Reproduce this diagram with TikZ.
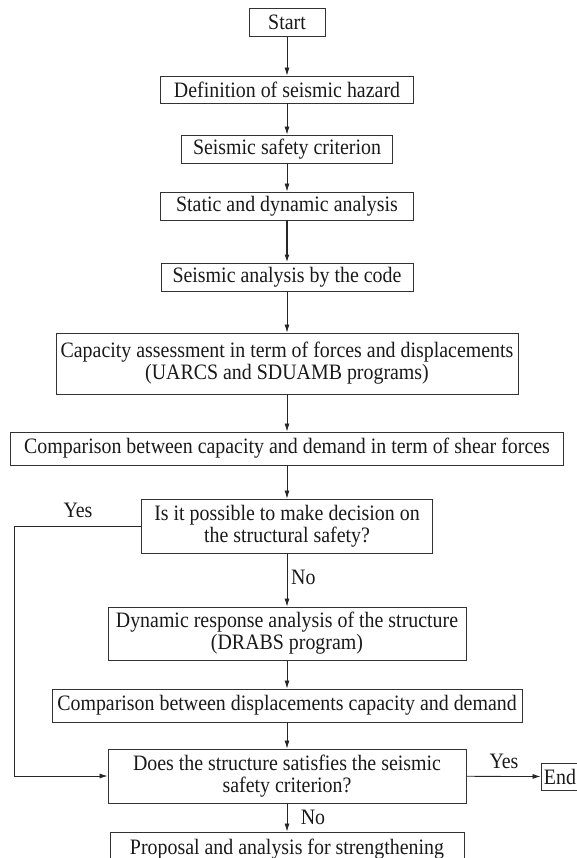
\documentclass[tikz,border=0pt]{standalone}
\usepackage{fontspec}
\setmainfont{Liberation Serif}[FakeStretch=0.905]
\usetikzlibrary{arrows.meta}
\begin{document}
\begin{tikzpicture}[x=1pt,y=-1pt,
  box/.style={draw=black!80, line width=0.9pt, rectangle, inner sep=0pt, align=center,
    font=\fontsize{22}{22}\selectfont, text=black!90},
  lbl/.style={font=\fontsize{22}{22}\selectfont, text=black!90, inner sep=0pt},
  arr/.style={draw=black!85, line width=0.8pt, -{Latex[length=8pt,width=5pt]}}]
\useasboundingbox (0,0) rectangle (577,858);
\clip (0,0) rectangle (577,858);
\node[box, minimum width=76, minimum height=28] (start) at (287,22) {Start};
\node[box, minimum width=253, minimum height=27] (def) at (287,89.5) {Definition of seismic hazard};
\node[box, minimum width=211, minimum height=28] (saf) at (287,149) {Seismic safety criterion};
\node[box, minimum width=253, minimum height=28] (sta) at (287,206) {Static and dynamic analysis};
\node[box, minimum width=252, minimum height=28] (code) at (287,277) {Seismic analysis by the code};
\node[box, minimum width=462, minimum height=61] (cap) at (287,363.5) {Capacity assessment in term of forces and displacements\\(UARCS and SDUAMB programs)};
\node[box, minimum width=553, minimum height=33] (cmp) at (287,448.5) {Comparison between capacity and demand in term of shear forces};
\node[box, minimum width=291, minimum height=54] (is) at (287,526) {Is it possible to make decision on\\the structural safety?};
\node[box, minimum width=358, minimum height=53] (dyn) at (287,633.5) {Dynamic response analysis of the structure\\(DRABS program)};
\node[box, minimum width=470, minimum height=33] (cmpd) at (287,705.5) {Comparison between displacements capacity and demand};
\node[box, minimum width=358, minimum height=54] (does) at (287,776) {Does the structure satisfies the seismic\\safety criterion?};
\node[box, minimum width=354, minimum height=34] (prop) at (287,849) {Proposal and analysis for strengthening};
\node[box, minimum width=38, minimum height=27] (end) at (560,776.5) {End};
\coordinate (lp) at (14,526);
\draw[arr] (start) -- (def);
\draw[arr] (def) -- (saf);
\draw[arr] (saf) -- (sta);
\draw[arr, line width=1.5pt] (sta) -- (code);
\draw[arr] (code) -- (cap);
\draw[arr] (cap) -- (cmp);
\draw[arr] (cmp) -- (is);
\draw[arr] (is) -- (dyn);
\draw[arr] (dyn) -- (cmpd);
\draw[arr] (cmpd) -- (does);
\draw[arr] (does) -- (prop);
\draw[arr] (does) -- (end);
\draw[arr] (is.west) -- (lp) |- (does.west);
\node[lbl] (yes1) at (78,510) {Yes};
\node[lbl, anchor=west] (no1) at (291,577) {No};
\node[lbl] (yes2) at (504,761) {Yes};
\node[lbl] (no2) at (313,817) {No};
\end{tikzpicture}
\end{document}
